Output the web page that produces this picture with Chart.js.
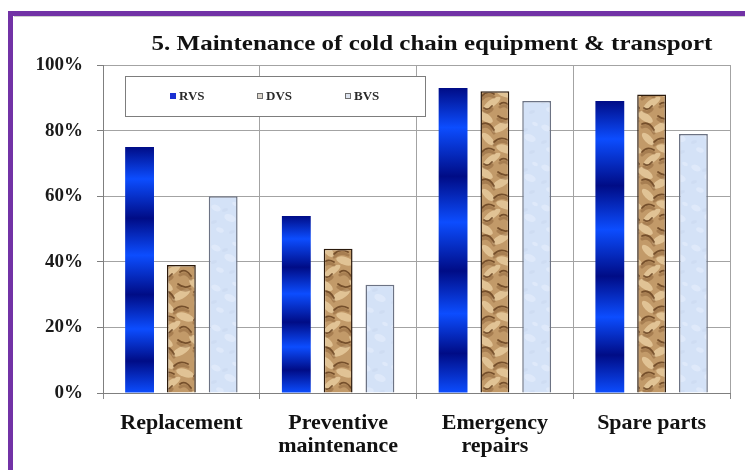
<!DOCTYPE html>
<html>
<head>
<meta charset="utf-8">
<script src="https://cdn.jsdelivr.net/npm/chart.js@4/dist/chart.umd.min.js"></script>
<style>
  html, body { margin: 0; padding: 0; background: #ffffff; }
  #wrap { position: relative; width: 745px; height: 470px; overflow: hidden; }
  #frameTop { position: absolute; left: 8px; top: 11px; width: 737px; height: 5px; background: #7232a6; }
  #frameTopShade { position: absolute; left: 14px; top: 16px; width: 731px; height: 1px; background: #cfcfcf; }
  #frameLeft { position: absolute; left: 8px; top: 11px; width: 5px; height: 459px; background: #7232a6; }
  canvas { position: absolute; left: 0; top: 0; }
</style>
</head>
<body>
<div id="wrap">
  <canvas id="chart" width="745" height="470"></canvas>
  <div id="frameTop"></div>
  <div id="frameTopShade"></div>
  <div id="frameLeft"></div>
</div>
<script>
// Chart text
const chartTitle = '5. Maintenance of cold chain equipment & transport';
const categories = [['Replacement'], ['Preventive', 'maintenance'], ['Emergency', 'repairs'], ['Spare parts']];
const seriesNames = ['RVS', 'DVS', 'BVS'];

// Share of respondents (%) per maintenance item
const rvsValues = [75, 54, 93, 89];
const dvsValues = [39, 44, 92, 91];
const bvsValues = [60, 33, 89, 79];

// Value axis ticks (%)
const yTickValues = [0, 20, 40, 60, 80, 100];

const SERIF = "'Liberation Serif', 'DejaVu Serif', serif";

const canvas = document.getElementById('chart');
const ctx2d = canvas.getContext('2d');

// Draw a shape on a tile together with its wrapped copies so the tile repeats seamlessly
function tiled(g, w, h, draw) {
  [-w, 0, w].forEach(dx => [-h, 0, h].forEach(dy => draw(dx, dy)));
}

// Tan "sandstone" texture used for the DVS bars
function makeSandPattern() {
  const w = 32, h = 56;
  const c = document.createElement('canvas');
  c.width = w; c.height = h;
  const g = c.getContext('2d');
  g.fillStyle = '#c29a69';
  g.fillRect(0, 0, w, h);
  // pale sandy patches
  const light = [[5, 5, 9, 4, 0.6], [21, 15, 10, 4, -0.5], [8, 27, 8, 3.5, 0.8], [25, 37, 9, 4, 0.3], [12, 47, 10, 3.5, -0.6]];
  g.fillStyle = 'rgba(228,200,154,0.9)';
  light.forEach(([x, y, rx, ry, a]) => tiled(g, w, h, (dx, dy) => {
    g.beginPath(); g.ellipse(x + dx, y + dy, rx, ry, a, 0, Math.PI * 2); g.fill();
  }));
  // darker creases
  const creases = [
    [[2, 12], [9, 9], [14, 18]], [[18, 4], [24, 9], [30, 6]], [[14, 30], [20, 24], [28, 28]],
    [[2, 40], [7, 34], [14, 38]], [[20, 48], [26, 44], [31, 52]], [[4, 52], [8, 55], [12, 50]]
  ];
  g.lineCap = 'round';
  g.strokeStyle = 'rgba(98,60,28,0.8)';
  g.lineWidth = 1.8;
  creases.forEach(([p0, p1, p2]) => tiled(g, w, h, (dx, dy) => {
    g.beginPath(); g.moveTo(p0[0] + dx, p0[1] + dy);
    g.quadraticCurveTo(p1[0] + dx, p1[1] + dy, p2[0] + dx, p2[1] + dy); g.stroke();
  }));
  g.strokeStyle = 'rgba(140,98,58,0.5)';
  g.lineWidth = 3;
  creases.forEach(([p0, p1, p2]) => tiled(g, w, h, (dx, dy) => {
    g.beginPath(); g.moveTo(p0[0] + dx, p0[1] + dy + 3);
    g.quadraticCurveTo(p1[0] + dx, p1[1] + dy + 3, p2[0] + dx, p2[1] + dy + 3); g.stroke();
  }));
  return ctx2d.createPattern(c, 'repeat');
}

// Pale blue, lightly mottled texture used for the BVS bars
function makeIcePattern() {
  const w = 30, h = 40;
  const c = document.createElement('canvas');
  c.width = w; c.height = h;
  const g = c.getContext('2d');
  g.fillStyle = '#d4e2f7';
  g.fillRect(0, 0, w, h);
  g.fillStyle = 'rgba(230,238,252,0.6)';
  [[6, 8, 5], [20, 18, 6], [10, 30, 4], [25, 4, 3]].forEach(([x, y, r]) => {
    g.beginPath(); g.ellipse(x, y, r, r * 0.6, 0.4, 0, Math.PI * 2); g.fill();
  });
  g.fillStyle = 'rgba(200,214,238,0.5)';
  [[15, 10, 3], [4, 22, 3], [22, 32, 3]].forEach(([x, y, r]) => {
    g.beginPath(); g.ellipse(x, y, r, r * 0.5, -0.3, 0, Math.PI * 2); g.fill();
  });
  return ctx2d.createPattern(c, 'repeat');
}

const sandFill = makeSandPattern();
const iceFill = makeIcePattern();

// Banded metallic blue, stretched over each RVS bar's own height
function rvsFill(context) {
  const chart = context.chart;
  const yScale = chart.scales && chart.scales.y;
  if (context.type !== 'data' || !yScale || !chart.chartArea) return '#0a2fd8';
  const top = yScale.getPixelForValue(context.raw);
  const bottom = yScale.getPixelForValue(0);
  const g = chart.ctx.createLinearGradient(0, top, 0, bottom);
  const dark = '#000c86', bright = '#0c4dff';
  [[0, dark], [0.13, bright], [0.29, dark], [0.44, bright], [0.6, dark], [0.74, bright], [0.87, dark], [1, bright]]
    .forEach(([p, col]) => g.addColorStop(p, col));
  return g;
}

// Boxed legend drawn inside the plot area
const boxedLegend = {
  id: 'boxedLegend',
  afterDatasetsDraw(chart) {
    const { ctx, chartArea } = chart;
    const left = chartArea.left + 22, top = chartArea.top + 11, w = 300, h = 40;
    ctx.save();
    ctx.fillStyle = '#ffffff';
    ctx.fillRect(left, top, w, h);
    ctx.strokeStyle = '#7d7d7d';
    ctx.lineWidth = 1;
    ctx.strokeRect(left + 0.5, top + 0.5, w, h);
    const swatches = [
      { fill: '#1a30d2', stroke: null },
      { fill: '#dcd6cc', stroke: '#6e6e6e' },
      { fill: '#dde3ee', stroke: '#6e6e6e' }
    ];
    const xs = [left + 45, left + 132, left + 220];
    const cy = top + h / 2;
    ctx.font = 'bold 13px ' + SERIF;
    ctx.textBaseline = 'middle';
    ctx.textAlign = 'left';
    chart.data.datasets.forEach((ds, i) => {
      const sw = swatches[i];
      ctx.fillStyle = sw.fill;
      ctx.fillRect(xs[i], cy - 3, 6, 6);
      if (sw.stroke) {
        ctx.strokeStyle = sw.stroke;
        ctx.strokeRect(xs[i] + 0.5, cy - 2.5, 5, 5);
      }
      ctx.fillStyle = '#2a2a2a';
      ctx.fillText(ds.label, xs[i] + 9, cy + 1);
    });
    ctx.restore();
  }
};

// Chart heading above the plot
const heading = {
  id: 'heading',
  afterDraw(chart) {
    const { ctx } = chart;
    ctx.save();
    ctx.font = 'bold 21px ' + SERIF;
    ctx.fillStyle = '#111111';
    ctx.textAlign = 'center';
    ctx.textBaseline = 'middle';
    ctx.translate(432, 45);
    ctx.scale(1.19, 1);
    ctx.fillText(chartTitle, 0, 0);
    ctx.restore();
  }
};

new Chart(canvas, {
  type: 'bar',
  data: {
    labels: categories,
    datasets: [
      { label: seriesNames[0], data: rvsValues, backgroundColor: rvsFill, borderWidth: 0 },
      { label: seriesNames[1], data: dvsValues, backgroundColor: sandFill, borderColor: '#2b1a0c', borderWidth: 1.5 },
      { label: seriesNames[2], data: bvsValues, backgroundColor: iceFill, borderColor: '#6c7384', borderWidth: 1.5 }
    ]
  },
  options: {
    responsive: false,
    animation: false,
    devicePixelRatio: 1,
    layout: { padding: { top: 65, right: 15, left: 0, bottom: 0 } },
    datasets: { bar: { categoryPercentage: 0.8, barPercentage: 0.69 } },
    plugins: {
      legend: { display: false },
      title: { display: false },
      tooltip: { enabled: false }
    },
    scales: {
      x: {
        grid: { offset: true, color: '#a3a3a3', lineWidth: 1, tickLength: 6, tickColor: '#8a8a8a' },
        border: { color: '#7f7f7f', width: 1 },
        ticks: {
          color: '#111111',
          padding: 13,
          maxRotation: 0,
          autoSkip: false,
          font: { family: SERIF, size: 22, weight: 'bold', lineHeight: 1.05 }
        },
        afterFit(scale) { scale.height = 77; }
      },
      y: {
        min: 0,
        max: 100,
        afterBuildTicks(scale) { scale.ticks = yTickValues.map(v => ({ value: v })); },
        grid: { color: '#a3a3a3', lineWidth: 1, tickLength: 6, tickColor: '#7f7f7f' },
        border: { color: '#7f7f7f', width: 1 },
        ticks: {
          color: '#1a1a1a',
          padding: 14,
          font: { family: SERIF, size: 19, weight: 'bold' },
          callback: (v) => v + '%'
        },
        afterFit(scale) { scale.width = 103; }
      }
    }
  },
  plugins: [boxedLegend, heading]
});
</script>
</body>
</html>
